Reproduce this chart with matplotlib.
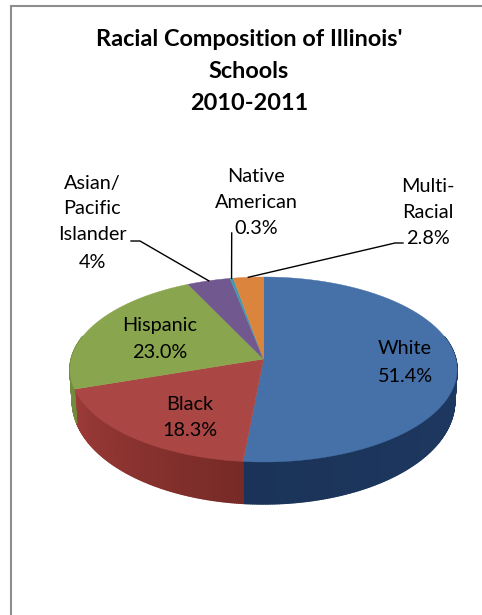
import numpy as np
import matplotlib
matplotlib.use("Agg")
import matplotlib.pyplot as plt
from matplotlib.collections import PolyCollection
from matplotlib.colors import to_rgb

# Enrollment shares, clockwise from twelve o'clock
groups = ["White", "Black", "Hispanic", "Asian/\nPacific\nIslander", "Native\nAmerican", "Multi-\nRacial"]
shares = [51.4, 18.3, 23.0, 4.0, 0.3, 2.8]
share_labels = ["51.4%", "18.3%", "23.0%", "4%", "0.3%", "2.8%"]
title_lines = ["Racial Composition of Illinois'", "Schools", "2010-2011"]

top_colors = ["#4570A8", "#AA4643", "#89A54E", "#71588F", "#4198AF", "#DB843D"]
side_light = ["#213F6C", "#9C3B38", "#7A9345", "#5C4675", "#357C90", "#B56C30"]
side_dark = ["#1B3358", "#772A27", "#6A8239", "#5C4675", "#357C90", "#B56C30"]

CX, CY = 263.5, 359.0
RX, RY = 192.3, 91.3
TILT = 0.1135
FONT = "Lato"
LABEL_SIZE = 14.3

fig = plt.figure(figsize=(4.82, 6.15), dpi=100, facecolor="white")
ax = fig.add_axes([0, 0, 1, 1])
ax.set_xlim(0, 482)
ax.set_ylim(615, 0)
ax.axis("off")


def rim(theta):
    """Project an angle on the unit disc onto the tilted pie surface."""
    x, y = np.sin(theta), np.cos(theta)
    w = 1 + TILT * y
    return CX + RX * x / w, CY - RY * y / w, w


def base(theta):
    """Matching point on the lower edge of the pie wall."""
    px, py, w = rim(theta)
    depth = 34 + (0.963 - w) * 105
    return CX + (px - CX) * 0.988, py + depth


fractions = np.array(shares) / np.sum(shares)
edges = np.concatenate([[0], np.cumsum(fractions)]) * 2 * np.pi

# Wall of the pie, shaded strip by strip
polys, colors = [], []
for i in range(len(shares)):
    angles = np.linspace(edges[i], edges[i + 1], max(3, int(shares[i] * 6)))
    light, dark = np.array(to_rgb(side_light[i])), np.array(to_rgb(side_dark[i]))
    for j in range(len(angles) - 1):
        a, b = angles[j], angles[j + 1]
        if np.cos((a + b) / 2) > 0.25:
            continue
        xa, ya, _ = rim(a)
        xb, yb, _ = rim(b)
        xc, yc = base(b)
        xd, yd = base(a)
        polys.append([(xa, ya), (xb, yb), (xc, yc), (xd, yd)])
        t = j / (len(angles) - 2)
        # the red wall brightens leftward, the blue one darkens toward the seam
        mix = t if i == 1 else (1 - t if i == 0 else 0.5)
        colors.append(dark * (1 - mix) + light * mix)
ax.add_collection(PolyCollection(polys, facecolors=colors, edgecolors=colors, linewidths=1.0, antialiaseds=True, capstyle="butt"))

# Top surface
for i in range(len(shares)):
    angles = np.linspace(edges[i], edges[i + 1], 200)
    xs, ys, _ = rim(angles)
    ax.fill(np.r_[CX, xs], np.r_[CY, ys], color=top_colors[i], lw=0.3, zorder=3)

# Labels on the large slices
inside = {0: (405, 349, 376), 1: (189.5, 404, 430), 2: (160, 326, 352)}
for i, (x, y1, y2) in inside.items():
    ax.text(x, y1, groups[i], ha="center", va="center", fontsize=LABEL_SIZE, family=FONT, color="black", zorder=5)
    ax.text(x, y2, share_labels[i], ha="center", va="center", fontsize=LABEL_SIZE, family=FONT, color="black", zorder=5)

# Stacked labels outside the pie, one line at a time
outside = {
    3: (92, [184, 209, 234, 263]),
    4: (256, [177, 203, 228]),
    5: (428, [186, 212, 238]),
}
for i, (x, rows) in outside.items():
    lines = groups[i].split("\n") + [share_labels[i]]
    for line, y in zip(lines, rows):
        ax.text(x, y, line, ha="center", va="center", fontsize=LABEL_SIZE, family=FONT, color="black", zorder=5)

# Leader lines, ending on each small slice's outer edge
mids = (edges[:-1] + edges[1:]) / 2
leaders = {
    3: [(131, 241), (140, 241)],
    4: [(231.7, 233)],
    5: [(403, 243), (395, 243)],
}
for i, pts in leaders.items():
    ex, ey, _ = rim(mids[i])
    xs = [p[0] for p in pts] + [ex]
    ys = [p[1] for p in pts] + [ey]
    ax.plot(xs, ys, color="black", lw=1.0, zorder=4, solid_joinstyle="miter")

# Title
for line, y in zip(title_lines, [40, 72, 103]):
    ax.text(249, y, line, ha="center", va="center", fontsize=16.9, fontweight="bold", family=FONT, color="black")

# Chart frame: left and top edges
ax.plot([11, 11, 482], [615, 5.5, 5.5], color="#8E8E8E", lw=1.5, solid_joinstyle="miter")

fig.savefig("out.png", dpi=100, facecolor="white")
